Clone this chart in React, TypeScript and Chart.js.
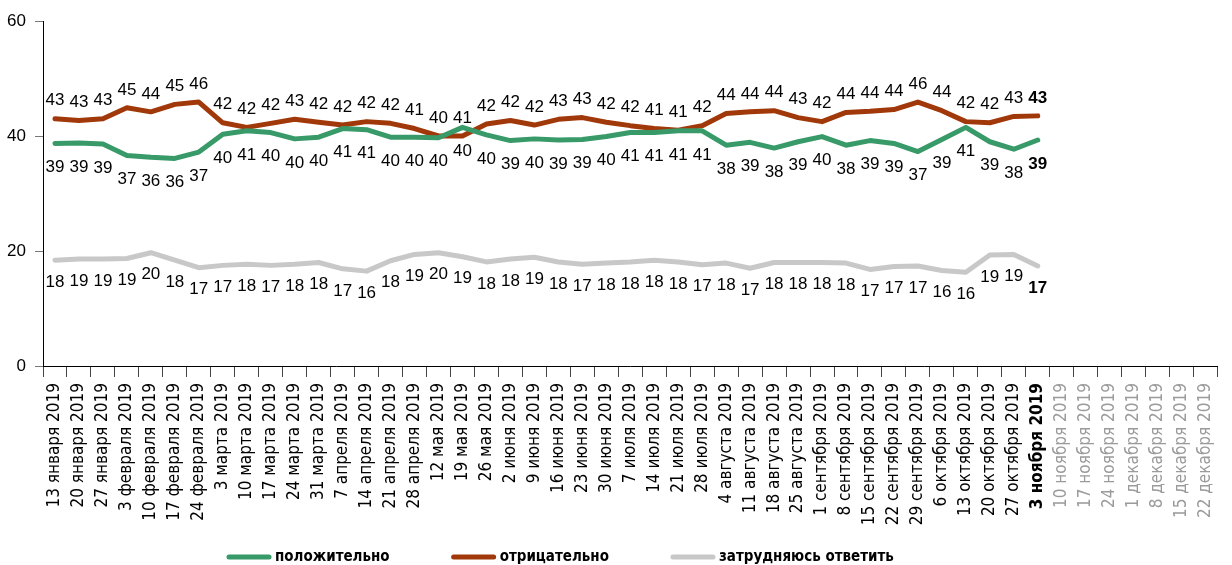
import React, { useEffect, useRef } from "react";
import { Chart, registerables } from "chart.js";

Chart.register(...registerables);

const categories = [
  "13 января 2019", "20 января 2019", "27 января 2019",
  "3 февраля 2019", "10 февраля 2019", "17 февраля 2019", "24 февраля 2019",
  "3 марта 2019", "10 марта 2019", "17 марта 2019", "24 марта 2019", "31 марта 2019",
  "7 апреля 2019", "14 апреля 2019", "21 апреля 2019", "28 апреля 2019",
  "12 мая 2019", "19 мая 2019", "26 мая 2019",
  "2 июня 2019", "9 июня 2019", "16 июня 2019", "23 июня 2019", "30 июня 2019",
  "7 июля 2019", "14 июля 2019", "21 июля 2019", "28 июля 2019",
  "4 августа 2019", "11 августа 2019", "18 августа 2019", "25 августа 2019",
  "1 сентября 2019", "8 сентября 2019", "15 сентября 2019", "22 сентября 2019", "29 сентября 2019",
  "6 октября 2019", "13 октября 2019", "20 октября 2019", "27 октября 2019",
  "3 ноября 2019", "10 ноября 2019", "17 ноября 2019", "24 ноября 2019",
  "1 декабря 2019", "8 декабря 2019", "15 декабря 2019", "22 декабря 2019",
];

// line values (as drawn)
const positiveValues = [
  38.7, 38.8, 38.6, 36.6, 36.3, 36.1, 37.2, 40.3, 40.9, 40.6, 39.5, 39.8,
  41.3, 41.1, 39.8, 39.8, 39.7, 41.5, 40.2, 39.2, 39.5, 39.3, 39.4, 39.9,
  40.6, 40.6, 40.9, 40.9, 38.4, 38.9, 37.9, 39.0, 39.9, 38.4, 39.2, 38.7,
  37.3, 39.4, 41.5, 39.0, 37.7, 39.3,
];
const negativeValues = [
  43.0, 42.7, 43.0, 44.9, 44.2, 45.5, 45.9, 42.3, 41.5, 42.2, 42.9, 42.4,
  41.9, 42.5, 42.2, 41.3, 40.0, 40.0, 42.1, 42.7, 41.9, 42.9, 43.2, 42.4,
  41.8, 41.3, 41.0, 41.8, 43.9, 44.2, 44.4, 43.2, 42.5, 44.1, 44.3, 44.6,
  45.9, 44.4, 42.5, 42.3, 43.4, 43.5,
];
const unsureValues = [
  18.4, 18.6, 18.6, 18.7, 19.7, 18.4, 17.1, 17.5, 17.7, 17.5, 17.7, 18.0,
  16.9, 16.5, 18.3, 19.4, 19.7, 19.0, 18.1, 18.6, 18.9, 18.1, 17.7, 17.9,
  18.1, 18.4, 18.1, 17.6, 17.9, 17.0, 18.0, 18.0, 18.0, 17.9, 16.8, 17.3,
  17.4, 16.6, 16.3, 19.3, 19.4, 17.4,
];

// printed numbers
const positiveLabels = [
  39, 39, 39, 37, 36, 36, 37, 40, 41, 40, 40, 40, 41, 41, 40, 40, 40, 40, 40, 39, 40,
  39, 39, 40, 41, 41, 41, 41, 38, 39, 38, 39, 40, 38, 39, 39, 37, 39, 41, 39, 38, 39,
];
const negativeLabels = [
  43, 43, 43, 45, 44, 45, 46, 42, 42, 42, 43, 42, 42, 42, 42, 41, 40, 41, 42, 42, 42,
  43, 43, 42, 42, 41, 41, 42, 44, 44, 44, 43, 42, 44, 44, 44, 46, 44, 42, 42, 43, 43,
];
const unsureLabels = [
  18, 19, 19, 19, 20, 18, 17, 17, 18, 17, 18, 18, 17, 16, 18, 19, 20, 19, 18, 18, 19,
  18, 17, 18, 18, 18, 18, 17, 18, 17, 18, 18, 18, 18, 17, 17, 17, 16, 16, 19, 19, 17,
];

const seriesNames = ["положительно", "отрицательно", "затрудняюсь ответить"];
const seriesColors = ["#389a68", "#a0380a", "#c8c8c8"];
const yMin = 0;
const yMax = 60;
const yStep = 20;
const currentIndex = 41;

const NUM_FONT = '"Liberation Sans", Arial, sans-serif';
const NARROW_FONT = '"Liberation Sans Narrow", "DejaVu Sans Condensed", Arial, sans-serif';

const pad = (arr: number[]) => categories.map((_, i) => (i < arr.length ? arr[i] : null));

const labelSets = [positiveLabels, negativeLabels, unsureLabels];
const labelOffsets = [24, -18, 22];

const valueLabelPlugin = {
  id: "valueLabels",
  afterDatasetsDraw(chart: any) {
    const ctx = chart.ctx;
    chart.data.datasets.forEach((ds: any, di: number) => {
      const meta = chart.getDatasetMeta(di);
      meta.data.forEach((pt: any, i: number) => {
        if (ds.data[i] == null) return;
        ctx.save();
        ctx.font = `${i === currentIndex ? "bold " : ""}17px ${NUM_FONT}`;
        ctx.fillStyle = "#000";
        ctx.textAlign = "center";
        ctx.textBaseline = "middle";
        ctx.fillText(String(labelSets[di][i]), pt.x, pt.y + labelOffsets[di]);
        ctx.restore();
      });
    });
  },
};

const legendLeft = 227;
const legendGap = 62;
const legendLineLen = 44;

const customLegendPlugin = {
  id: "customLegend",
  afterDraw(chart: any) {
    const ctx = chart.ctx;
    const y = chart.height - 8;
    let x = legendLeft;
    ctx.save();
    ctx.font = `bold 15px ${NARROW_FONT}`;
    ctx.textBaseline = "middle";
    ctx.textAlign = "left";
    seriesNames.forEach((name, i) => {
      ctx.strokeStyle = seriesColors[i];
      ctx.lineWidth = 5;
      ctx.lineCap = "round";
      ctx.beginPath();
      ctx.moveTo(x + 2, y);
      ctx.lineTo(x + legendLineLen - 2, y);
      ctx.stroke();
      ctx.fillStyle = "#000";
      ctx.fillText(name, x + legendLineLen + 4, y);
      const w = ctx.measureText(name).width;
      x += legendLineLen + 4 + w + legendGap;
    });
    ctx.restore();
  },
};

export default function App() {
  const ref = useRef<HTMLCanvasElement | null>(null);

  useEffect(() => {
    if (!ref.current) return;
    const chart = new Chart(ref.current, {
      type: "line",
      data: {
        labels: categories,
        datasets: [
          { label: seriesNames[0], data: pad(positiveValues), borderColor: seriesColors[0], backgroundColor: seriesColors[0] },
          { label: seriesNames[1], data: pad(negativeValues), borderColor: seriesColors[1], backgroundColor: seriesColors[1] },
          { label: seriesNames[2], data: pad(unsureValues), borderColor: seriesColors[2], backgroundColor: seriesColors[2] },
        ].map((d) => ({
          ...d,
          borderWidth: 5,
          pointRadius: 0,
          pointHoverRadius: 0,
          tension: 0,
          borderCapStyle: "round" as const,
          borderJoinStyle: "round" as const,
          fill: false,
        })),
      },
      options: {
        animation: false,
        responsive: false,
        events: [],
        layout: { padding: { top: 21, right: 5, bottom: 34, left: 0 } },
        plugins: {
          legend: { display: false },
          tooltip: { enabled: false },
        },
        scales: {
          x: {
            offset: true,
            grid: { offset: true, drawOnChartArea: false, drawTicks: true, tickLength: 11, tickColor: "#444" },
            border: { display: true, color: "#000", width: 1 },
            ticks: {
              autoSkip: false,
              minRotation: 90,
              maxRotation: 90,
              padding: 6,
              color: (c: any) => (c.index > currentIndex ? "#9b9b9b" : "#000"),
              font: (c: any) => ({
                size: 17,
                family: NARROW_FONT,
                weight: c.index === currentIndex ? "bold" : "normal",
              }),
            },
            afterFit: (scale: any) => {
              scale.height = 165;
            },
          },
          y: {
            min: yMin,
            max: yMax,
            grid: { drawOnChartArea: false, drawTicks: true, tickLength: 8, tickColor: "#777" },
            border: { display: true, color: "#000", width: 1 },
            ticks: {
              stepSize: yStep,
              color: "#000",
              padding: 9,
              font: { size: 17, family: NUM_FONT },
            },
            afterFit: (scale: any) => {
              scale.width = 43;
            },
          },
        },
      },
      plugins: [valueLabelPlugin, customLegendPlugin],
    });
    return () => chart.destroy();
  }, []);

  return (
    <div style={{ position: "fixed", left: 0, top: 0, width: 1232, height: 565, background: "#fff" }}>
      <canvas ref={ref} width={1232} height={565} style={{ display: "block" }} />
    </div>
  );
}
